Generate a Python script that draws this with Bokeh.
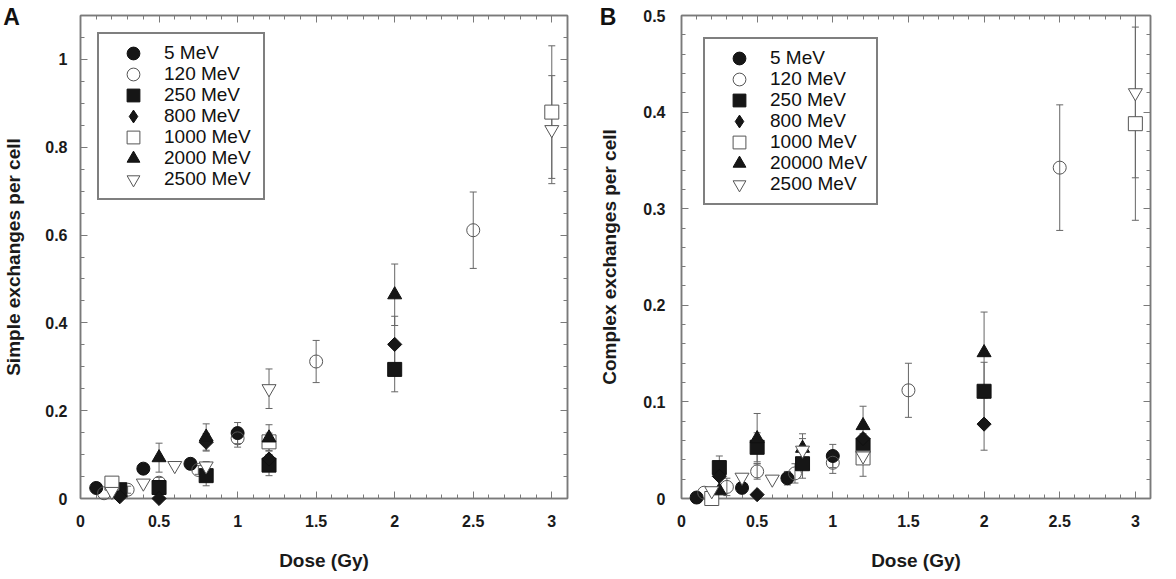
import math
from bokeh.plotting import figure
from bokeh.models import (ColumnDataSource, Range1d, LinearAxis, FixedTicker, Whisker,
                          TeeHead, Legend, LegendItem, CustomLabelingPolicy)
from bokeh.core.properties import value
from bokeh.layouts import row
from bokeh.embed import file_html
from bokeh.resources import INLINE

FONT = "Liberation Sans"

# ---------------- data ----------------
labels_A = ["5 MeV", "120 MeV", "250 MeV", "800 MeV", "1000 MeV", "2000 MeV", "2500 MeV"]
labels_B = ["5 MeV", "120 MeV", "250 MeV", "800 MeV", "1000 MeV", "20000 MeV", "2500 MeV"]

# Panel A: simple exchanges per cell
A_dose_5 = [0.1, 0.4, 0.7, 1.0]
A_val_5 = [0.024, 0.068, 0.079, 0.149]
A_err_5 = [0.0, 0.0, 0.008, 0.024]

A_dose_120 = [0.15, 0.3, 0.5, 0.75, 1.0, 1.5, 2.5]
A_val_120 = [0.012, 0.02, 0.036, 0.065, 0.137, 0.312, 0.611]
A_err_120 = [0.0, 0.008, 0.012, 0.01, 0.02, 0.048, 0.087]

A_dose_250 = [0.25, 0.5, 0.8, 1.2, 2.0]
A_val_250 = [0.02, 0.025, 0.052, 0.076, 0.294]
A_err_250 = [0.01, 0.01, 0.023, 0.024, 0.051]

A_dose_800 = [0.25, 0.5, 0.8, 1.2, 2.0]
A_val_800 = [0.004, 0.0, 0.128, 0.09, 0.351]
A_err_800 = [0.0, 0.0, 0.02, 0.0, 0.064]

A_dose_1000 = [0.2, 1.2, 3.0]
A_val_1000 = [0.035, 0.129, 0.88]
A_err_1000 = [0.013, 0.02, 0.151]

A_dose_2000 = [0.5, 0.8, 1.2, 2.0]
A_val_2000 = [0.093, 0.14, 0.138, 0.464]
A_err_2000 = [0.033, 0.03, 0.03, 0.07]

A_dose_2500 = [0.2, 0.4, 0.6, 0.8, 1.2, 3.0]
A_val_2500 = [0.016, 0.035, 0.075, 0.074, 0.25, 0.84]
A_err_2500 = [0.0, 0.0, 0.0, 0.01, 0.045, 0.123]

# Panel B: complex exchanges per cell
B_dose_5 = [0.1, 0.4, 0.7, 1.0]
B_val_5 = [0.001, 0.011, 0.021, 0.044]
B_err_5 = [0.0, 0.0, 0.007, 0.012]

B_dose_120 = [0.15, 0.3, 0.5, 0.75, 1.0, 1.5, 2.5]
B_val_120 = [0.006, 0.012, 0.028, 0.026, 0.037, 0.112, 0.3425]
B_err_120 = [0.0, 0.009, 0.008, 0.01, 0.011, 0.028, 0.065]

B_dose_250 = [0.25, 0.5, 0.8, 1.2, 2.0]
B_val_250 = [0.032, 0.053, 0.036, 0.055, 0.111]
B_err_250 = [0.012, 0.015, 0.015, 0.012, 0.03]

B_dose_800 = [0.25, 0.5, 1.2, 2.0]
B_val_800 = [0.023, 0.004, 0.062, 0.077]
B_err_800 = [0.0, 0.0, 0.0, 0.027]

B_dose_1000 = [0.2, 1.2, 3.0]
B_val_1000 = [0.0, 0.042, 0.388]
B_err_1000 = [0.0, 0.019, 0.1]

B_dose_2000 = [0.25, 0.5, 0.8, 1.2, 2.0]
B_val_2000 = [0.008, 0.062, 0.052, 0.0755, 0.151]
B_err_2000 = [0.0, 0.026, 0.015, 0.02, 0.042]

B_dose_2500 = [0.2, 0.4, 0.6, 0.8, 1.2, 3.0]
B_val_2500 = [0.008, 0.022, 0.02, 0.05, 0.044, 0.42]
B_err_2500 = [0.0, 0.0, 0.0, 0.012, 0.0, 0.088]

x_ticks = [0, 0.5, 1, 1.5, 2, 2.5, 3]
x_tick_labels = ["0", "0.5", "1", "1.5", "2", "2.5", "3"]
A_y_ticks = [0, 0.2, 0.4, 0.6, 0.8, 1.0]
A_y_tick_labels = ["0", "0.2", "0.4", "0.6", "0.8", "1"]
B_y_ticks = [0, 0.1, 0.2, 0.3, 0.4, 0.5]
B_y_tick_labels = ["0", "0.1", "0.2", "0.3", "0.4", "0.5"]

series_A = [(A_dose_5, A_val_5, A_err_5), (A_dose_120, A_val_120, A_err_120),
            (A_dose_250, A_val_250, A_err_250), (A_dose_800, A_val_800, A_err_800),
            (A_dose_1000, A_val_1000, A_err_1000), (A_dose_2000, A_val_2000, A_err_2000),
            (A_dose_2500, A_val_2500, A_err_2500)]
series_B = [(B_dose_5, B_val_5, B_err_5), (B_dose_120, B_val_120, B_err_120),
            (B_dose_250, B_val_250, B_err_250), (B_dose_800, B_val_800, B_err_800),
            (B_dose_1000, B_val_1000, B_err_1000), (B_dose_2000, B_val_2000, B_err_2000),
            (B_dose_2500, B_val_2500, B_err_2500)]

# ---------------- styles ----------------
markers = ["circle", "circle", "square", "square", "square", "triangle", "inverted_triangle"]
legend_markers = ["circle", "circle", "square", "diamond", "square", "triangle", "inverted_triangle"]
angles = [0, 0, 0, math.pi / 4, 0, 0, 0]
fills = ["#161616", None, "#161616", "#161616", "white", "#161616", "white"]
lines = ["#111111", "#555555", "#111111", "#111111", "#555555", "#111111", "#555555"]
sizes = [13, 13, 14, 10, 14, 14, 14]
AXC = "#7a7a7a"
FIG_H = 575
LEG_PAD = 3
LEG_ROW = 32
LEG_GAP = 10
LEG2_SHIFT = 5


def style_axis(ax, labels=True, standoff=12):
    ax.axis_line_color = AXC
    ax.axis_line_width = 1.5
    ax.major_tick_in = 7
    ax.major_tick_out = 0
    ax.minor_tick_in = 4
    ax.minor_tick_out = 0
    ax.major_tick_line_color = AXC
    ax.minor_tick_line_color = AXC
    ax.major_tick_line_width = 1
    ax.minor_tick_line_width = 1
    ax.major_label_text_font = FONT
    ax.major_label_text_font_style = "bold"
    ax.major_label_text_color = "#1a1a1a"
    ax.major_label_text_font_size = "16px"
    if labels:
        ax.major_label_standoff = standoff
    else:
        ax.major_label_standoff = 0
        ax.major_label_policy = CustomLabelingPolicy(
            code="for (const i of indices) indices.unset(i); return indices")
    ax.axis_label_text_font = FONT
    ax.axis_label_text_font_style = "bold"
    ax.axis_label_text_font_size = "19px"
    ax.axis_label_text_color = "#1a1a1a"


def legend_part(items, margin, label_w, boxed):
    kw = {}
    if not boxed:
        kw = dict(title=" ", title_text_font_size="2px",
                  title_standoff=(LEG_ROW + LEG_GAP) // 2 - 2)
    return Legend(items=items, location="top_left", margin=margin,
                  border_line_color="black" if boxed else None, border_line_width=2,
                  background_fill_color="white", background_fill_alpha=1.0 if boxed else 0.0,
                  padding=LEG_PAD, spacing=LEG_GAP, glyph_height=LEG_ROW, glyph_width=62,
                  label_standoff=0, label_height=LEG_ROW, label_width=label_w,
                  label_text_font=FONT, label_text_font_size="19px",
                  label_text_color="#111111", **kw)


def make_panel(series, labels, y_end, y_ticks, y_tick_labels, y_minor_step, ylabel, letter,
               b_left, b_right, b_top, frame_w, frame_h, ytick_standoff, ylabel_standoff,
               legend_margin, label_w, letter_px):
    width = b_left + frame_w + b_right
    b_bottom = FIG_H - b_top - frame_h
    p = figure(width=width, height=FIG_H, output_backend="svg", toolbar_location=None,
               x_range=Range1d(0, 3.1), y_range=Range1d(0, y_end),
               min_border_left=b_left, min_border_right=b_right, min_border_top=b_top,
               min_border_bottom=b_bottom, x_axis_label="Dose (Gy)", y_axis_label=ylabel)
    p.xgrid.visible = False
    p.ygrid.visible = False
    p.outline_line_color = AXC
    p.outline_line_width = 1.5
    p.background_fill_color = "white"
    p.border_fill_color = "white"

    x_minor = [round(i * 0.1, 2) for i in range(32)]
    n_minor = int(round(y_end / y_minor_step)) + 1
    y_minor = [round(i * y_minor_step, 3) for i in range(n_minor)]
    xt = FixedTicker(ticks=x_ticks, minor_ticks=x_minor)
    yt = FixedTicker(ticks=y_ticks, minor_ticks=y_minor)

    xa = p.xaxis[0]
    ya = p.yaxis[0]
    xa.ticker = xt
    ya.ticker = yt
    xa.major_label_overrides = {float(t): s for t, s in zip(x_ticks, x_tick_labels)}
    ya.major_label_overrides = {float(t): s for t, s in zip(y_ticks, y_tick_labels)}
    style_axis(xa, True, 16)
    style_axis(ya, True, ytick_standoff)
    xa.axis_label_standoff = 20
    ya.axis_label_standoff = ylabel_standoff

    top = LinearAxis(ticker=xt)
    style_axis(top, False)
    p.add_layout(top, "above")
    right = LinearAxis(ticker=yt)
    style_axis(right, False)
    p.add_layout(right, "right")

    # error bars
    wx, wu, wl = [], [], []
    for d, v, e in series:
        for xi, yi, ei in zip(d, v, e):
            if ei > 0:
                wx.append(xi)
                wu.append(yi + ei)
                wl.append(yi - ei)
    wsrc = ColumnDataSource(dict(x=wx, upper=wu, lower=wl))
    wh = Whisker(source=wsrc, base="x", upper="upper", lower="lower", dimension="height",
                 line_color="#666666", line_width=1, level="underlay",
                 upper_head=TeeHead(size=7, line_color="#666666", line_width=1),
                 lower_head=TeeHead(size=7, line_color="#666666", line_width=1))
    p.add_layout(wh)

    items = []
    for i, (d, v, e) in enumerate(series):
        src = ColumnDataSource(dict(x=d, y=v))
        leg_r = None
        if legend_markers[i] != markers[i]:
            # diamond twin for the legend (legend ignores marker angle); hidden below the
            # rotated square drawn on top of it
            leg_r = p.scatter("x", "y", source=src, marker=legend_markers[i], size=9,
                              fill_color=fills[i], line_color=lines[i], line_width=1)
        r = p.scatter("x", "y", source=src, marker=markers[i], size=sizes[i], angle=angles[i],
                      fill_color=fills[i], line_color=lines[i], line_width=1, level="overlay")
        items.append(LegendItem(label=labels[i], renderers=[leg_r or r]))

    # two interleaved legends give a tight row pitch with full-size symbols
    p.add_layout(legend_part(items[0::2], legend_margin, label_w, True))
    p.add_layout(legend_part(items[1::2], legend_margin + LEG2_SHIFT, label_w, False))

    # panel letter, placed at a fixed pixel offset from the frame's top-left corner
    lx = letter_px[0] * 3.1 / frame_w
    ly = y_end - letter_px[1] * y_end / frame_h
    p.text(x=[lx], y=[ly], text=[letter], text_font=value(FONT), text_font_style="bold",
           text_font_size="23px", text_baseline="alphabetic", text_align="left",
           text_color="#111111", level="overlay")
    return p


pA = make_panel(series_A, labels_A, 1.1, A_y_ticks, A_y_tick_labels, 0.05,
                "Simple exchanges per cell", "A", 76, 29, 8, 491, 490, 13, 18,
                17, 96, (-78, 2))
pB = make_panel(series_B, labels_B, 0.5, B_y_ticks, B_y_tick_labels, 0.02,
                "Complex exchanges per cell", "B", 84, 1, 7, 494, 496, 16, 20,
                22, 103, (-86, 2))

layout = row(pA, pB)
open("out.html", "w").write(file_html(layout, INLINE))
